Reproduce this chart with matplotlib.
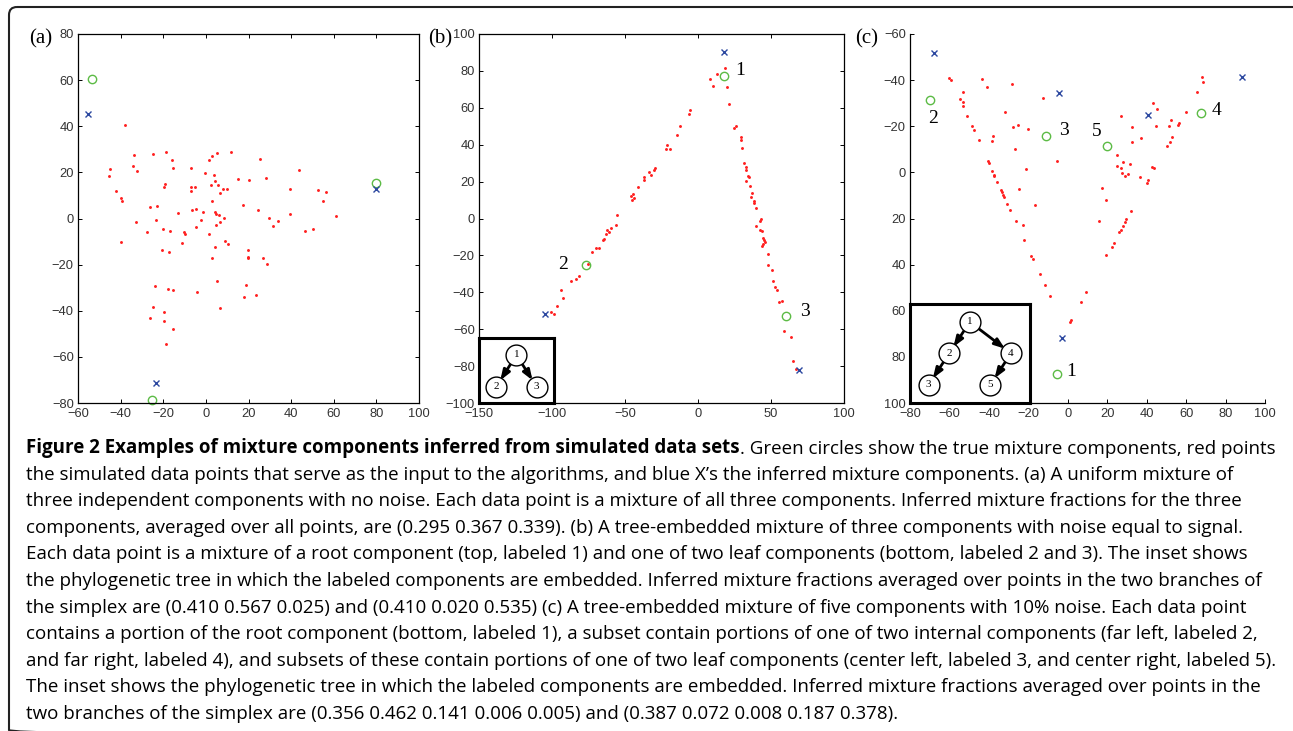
import numpy as np
import matplotlib.pyplot as plt
from matplotlib.patches import FancyBboxPatch
from matplotlib.transforms import Affine2D

W, H = 1293, 731

# ---- panel (a): uniform mixture, no noise ----
a_pts_x = [-37.8, -45.0, -45.6, -33.7, -34.0, -32.3, -24.6, -18.7, -16.0, -15.5,
           -42.0, -40.0, -39.2, -32.9, -40.0, -26.2, -22.9, -23.5, -27.4, -19.9,
           -16.6, -19.1, -19.5, -6.9, -7.2, -7.1, -5.1, -13.0, -6.5, -4.7,
           -1.3, -2.2, -4.6, -10.1, -9.6, -11.2, -20.4, -17.4, 1.5, 2.9,
           5.0, 11.7, -0.4, 3.9, 4.5, 2.3, 5.8, 8.1, 9.8, 6.4,
           2.8, 4.3, 4.7, 6.1, 8.4, 6.7, 4.8, 1.7, 4.2, 2.9,
           5.1, 9.2, 10.6, 15.1, 20.3, 17.3, 25.5, 28.3, 24.5, 19.8,
           19.8, 19.7, 26.7, 28.8, 18.7, 23.6, 17.7, 29.7, 33.9, 31.7,
           39.6, 43.5, 39.6, 46.5, 50.4, 52.6, 56.3, 54.9, 61.0, -23.8,
           -18.0, -15.2, -4.3, -24.6, -26.3, -19.8, -19.5, -15.5, -18.5, 6.4]
a_pts_y = [40.7, 21.5, 18.3, 27.4, 22.6, 20.7, 28.1, 28.8, 25.4, 21.9,
           11.8, 9.0, 7.7, -1.7, -10.3, 5.0, 5.3, -0.8, -5.7, -4.4,
           -5.4, 15.1, 13.5, 21.9, 13.8, 11.8, 13.8, 2.4, 3.5, 4.1,
           2.7, -0.6, -3.5, -5.8, -6.6, -10.8, -13.8, -14.7, 25.5, 27.1,
           28.5, 28.8, 19.7, 18.7, 16.1, 14.5, 14.5, 12.9, 12.9, 10.9,
           7.4, 2.8, 2.0, 1.4, 0.1, -1.5, -3.0, -6.7, -12.2, -17.1,
           -27.2, -9.8, -11.1, 17.1, 16.6, 5.7, 25.8, 17.4, 3.8, -13.8,
           -16.8, -17.1, -17.1, -19.6, -28.8, -33.0, -34.2, 0.1, -1.2, -3.4,
           12.8, 20.9, 1.8, -5.4, -4.5, 12.2, 11.6, 7.7, 1.1, -29.1,
           -30.6, -31.0, -31.7, -38.2, -43.0, -40.4, -44.3, -47.9, -54.4, -38.8]
a_true_x = [-53.4, 80.0, -25.4]
a_true_y = [60.5, 15.4, -78.5]
a_inf_x = [-55.1, 80.0, -23.2]
a_inf_y = [45.3, 12.6, -71.2]

# ---- panel (b): tree of three components ----
b_pts_x = [18.7, 12.8, 8.0, 10.3, 19.9, 21.2, -5.5, -6.2, -12.6, -14.4,
           -21.5, -22.1, -18.9, -29.2, -30.4, -33.8, -32.0, -37.0, -37.2, -41.1,
           -44.3, -45.7, -43.6, -45.2, -55.7, -55.9, -62.1, -61.0, -59.6, -63.0,
           -64.4, -65.1, -67.8, -70.1, -72.4, -75.1, -81.3, -83.3, -86.8, -94.1,
           -92.2, -96.8, -100.7, -98.9,
           24.7, 26.0, 29.2, 29.5, 30.1, 31.3, 32.9, 32.9, 34.0, 34.9,
           33.1, 35.4, 36.8, 36.5, 38.1, 38.6, 40.0, 43.4, 42.2, 40.0,
           42.2, 43.8, 44.5, 45.4, 45.9, 43.6, 44.7, 47.7, 47.9, 50.5,
           51.4, 52.5, 53.9, 55.7, 57.3, 58.7, 63.7, 65.1, 66.9]
b_pts_y = [81.4, 78.5, 75.8, 72.0, 71.3, 61.9, 59.0, 56.6, 50.1, 45.3,
           39.7, 37.5, 37.9, 27.4, 26.5, 25.4, 23.4, 22.3, 20.9, 17.1,
           13.5, 12.0, 11.3, 10.2, 1.9, -3.5, -6.1, -7.5, -5.3, -8.6,
           -11.1, -11.5, -16.0, -16.2, -18.2, -24.7, -31.0, -32.8, -33.9, -38.9,
           -43.3, -47.6, -50.7, -51.8,
           49.2, 50.0, 44.2, 42.4, 38.0, 29.9, 27.7, 26.3, 23.2, 22.7,
           20.5, 17.4, 14.0, 11.8, 9.3, 8.2, 5.5, -0.5, -1.5, -4.2,
           -6.2, -6.6, -10.4, -11.5, -12.6, -15.1, -13.8, -19.4, -25.0, -27.9,
           -33.9, -37.3, -38.6, -45.3, -44.7, -61.0, -64.2, -77.1, -81.8]
b_true_x = [17.8, -76.5, 60.0]
b_true_y = [77.4, -25.4, -52.8]
b_true_lab = ["1", "2", "3"]
b_inf_x = [18.0, -104.8, 68.9]
b_inf_y = [90.4, -51.8, -82.1]
b_edges = [(1, 2), (1, 3)]

# ---- panel (c): tree of five components ----
c_pts_x = [-60.1, -59.4, -53.0, -54.8, -53.3, -53.3, -51.1, -48.6, -47.7, -45.2,
           -43.3, -41.1, -37.7, -38.3, -40.5, -39.8, -38.3, -37.6, -37.4, -35.7,
           -33.9, -33.4, -32.7, -32.2, -30.8, -29.1, -26.4, -22.9, -22.2, -18.7,
           -17.8, -14.1, -11.7, -9.0, -31.7, -28.1, -27.9, -25.1, -26.6, -20.3,
           -21.4, -24.9, -16.5, -12.6, -5.5, 9.4, 6.5, 1.5, 1.0,
           27.0, 32.7, 37.1, 32.6, 25.1, 28.2, 24.8, 27.1, 31.4, 27.5,
           29.2, 30.7, 36.4, 40.0, 40.7, 42.7, 43.9, 17.2, 19.5, 15.7,
           32.1, 29.7, 29.2, 27.8, 26.8, 25.9, 23.4, 22.2, 19.5, 43.0,
           45.4, 44.6, 52.5, 51.5, 56.4, 56.1, 52.8, 51.7, 50.3, 59.8,
           65.5, 68.2, 68.4]
c_pts_y = [-40.8, -39.9, -34.9, -31.8, -30.5, -28.9, -24.4, -20.0, -18.4, -13.9,
           -40.5, -37.0, -15.8, -13.5, -4.9, -3.9, -0.5, 1.0, 1.4, 4.3,
           7.5, 8.5, 9.7, 10.7, 13.6, 16.2, 21.1, 23.0, 29.2, 36.1,
           37.6, 44.2, 49.0, 53.7, -26.0, -38.3, -19.5, -20.4, -10.0, -18.7,
           -1.6, 7.2, 14.3, -32.4, -4.9, 51.9, 56.3, 64.0, 64.7,
           -24.6, -19.5, -15.1, -13.0, -7.4, -4.4, -2.6, -1.9, -3.6, 0.3,
           1.7, 0.7, 1.9, 4.6, 3.4, -2.2, -1.8, 6.9, 12.0, 21.1,
           16.6, 20.4, 21.4, 23.4, 25.0, 25.8, 30.6, 32.2, 36.0, -30.1,
           -27.5, -20.1, -22.9, -20.1, -21.6, -20.4, -15.3, -13.3, -11.3, -26.0,
           -34.9, -41.5, -39.0]
c_true_x = [-5.6, -69.7, -10.9, 67.7, 19.9]
c_true_y = [87.4, -31.5, -15.9, -25.6, -11.6]
c_true_lab = ["1", "2", "3", "4", "5"]
c_inf_x = [-68.0, -4.5, 40.7, 88.5, -2.9]
c_inf_y = [-51.8, -34.3, -24.9, -41.2, 71.8]
c_edges = [(1, 2), (1, 4), (2, 3), (4, 5)]

caption_bold = "Figure 2 Examples of mixture components inferred from simulated data sets"
caption_lines = [
    ". Green circles show the true mixture components, red points",
    "the simulated data points that serve as the input to the algorithms, and blue X\u2019s the inferred mixture components. (a) A uniform mixture of",
    "three independent components with no noise. Each data point is a mixture of all three components. Inferred mixture fractions for the three",
    "components, averaged over all points, are (0.295 0.367 0.339). (b) A tree-embedded mixture of three components with noise equal to signal.",
    "Each data point is a mixture of a root component (top, labeled 1) and one of two leaf components (bottom, labeled 2 and 3). The inset shows",
    "the phylogenetic tree in which the labeled components are embedded. Inferred mixture fractions averaged over points in the two branches of",
    "the simplex are (0.410 0.567 0.025) and (0.410 0.020 0.535) (c) A tree-embedded mixture of five components with 10% noise. Each data point",
    "contains a portion of the root component (bottom, labeled 1), a subset contain portions of one of two internal components (far left, labeled 2,",
    "and far right, labeled 4), and subsets of these contain portions of one of two leaf components (center left, labeled 3, and center right, labeled 5).",
    "The inset shows the phylogenetic tree in which the labeled components are embedded. Inferred mixture fractions averaged over points in the",
    "two branches of the simplex are (0.356 0.462 0.141 0.006 0.005) and (0.387 0.072 0.008 0.187 0.378).",
]

RED = "#ff1f1f"
GREEN = "#5cbb45"
BLUE = "#2c48a0"
SERIF = "Liberation Serif"
CAP_FONT = "Open Sans"


# axes rectangle from pixel edges (top-left origin)
def px_rect(left, top, right, bottom):
    return [left / W, 1 - bottom / H, (right - left) / W, (bottom - top) / H]


def style_axes(ax, boxed=True):
    ax.tick_params(direction="in", length=3, width=0.7, labelsize=9.3,
                   labelcolor="#333333", pad=3, top=boxed, right=boxed)
    ax.tick_params(axis="x", pad=3.5)
    for lab in ax.get_xticklabels() + ax.get_yticklabels():
        lab.set_family("Liberation Sans")
    for s in ax.spines.values():
        s.set_linewidth(0.9)
    if not boxed:
        ax.spines["top"].set_visible(False)
        ax.spines["right"].set_visible(False)


def scatter_panel(ax, px, py, tx, ty, ix, iy):
    ax.plot(px, py, "o", ms=2.1, mew=0, color=RED, clip_on=False)
    ax.plot(tx, ty, "o", ms=6, mfc="none", mec=GREEN, mew=1.0, clip_on=False)
    ax.plot(ix, iy, "x", ms=4, mew=1.0, color=BLUE, clip_on=False)


def label_points(ax, tx, ty, labels, offsets):
    for x, y, lab, off in zip(tx, ty, labels, offsets):
        ax.annotate(lab, (x, y), xytext=off, textcoords="offset pixels",
                    ha="center", va="center", fontsize=14, family=SERIF)


# small tree inset, nodes laid out in-order and by depth
def draw_tree(ax, rect, edges, margin, top, bottom):
    ins = ax.inset_axes(rect)
    ins.set_xlim(0, 1)
    ins.set_ylim(0, 1)
    ins.set_xticks([])
    ins.set_yticks([])
    for s in ins.spines.values():
        s.set_linewidth(2.2)
    kids = {}
    for p, c in edges:
        kids.setdefault(p, []).append(c)
    root = edges[0][0]
    order, depth = [], {}

    def walk(n, d):
        depth[n] = d
        ch = kids.get(n, [])
        if ch:
            walk(ch[0], d + 1)
        order.append(n)
        for k in ch[1:]:
            walk(k, d + 1)

    walk(root, 0)
    xs = np.linspace(margin, 1 - margin, len(order))
    ys = np.linspace(top, bottom, max(depth.values()) + 1)
    pos = {n: (xs[i], ys[depth[n]]) for i, n in enumerate(order)}
    for p, c in edges:
        ins.annotate("", xy=pos[c], xytext=pos[p],
                     arrowprops=dict(arrowstyle="-|>,head_length=0.6,head_width=0.22",
                                     lw=2.0, color="black", shrinkA=7.5, shrinkB=5.5))
    for n, (x, y) in pos.items():
        ins.plot(x, y, "o", ms=15, mfc="white", mec="black", mew=1.0, zorder=3)
        ins.text(x, y, str(n), ha="center", va="center", fontsize=8,
                 family=SERIF, zorder=4)


fig = plt.figure(figsize=(W / 100, H / 100), dpi=100)

# rounded frame round the whole figure (runs off the right and bottom edges)
frame = FancyBboxPatch((9, 7), W, H, boxstyle="round,pad=0,rounding_size=8",
                       fill=False, lw=1.5, ec="#222222", clip_on=False,
                       transform=Affine2D().scale(1, -1).translate(0, H))
fig.patches.append(frame)

# (a)
ax_a = fig.add_axes(px_rect(78, 34, 419, 403))
scatter_panel(ax_a, a_pts_x, a_pts_y, a_true_x, a_true_y, a_inf_x, a_inf_y)
ax_a.set_xlim(-60, 100)
ax_a.set_ylim(-80, 80)
ax_a.set_xticks(np.arange(-60, 101, 20))
ax_a.set_yticks(np.arange(-80, 81, 20))
style_axes(ax_a)

# (b)
ax_b = fig.add_axes(px_rect(479, 34, 844, 403))
scatter_panel(ax_b, b_pts_x, b_pts_y, b_true_x, b_true_y, b_inf_x, b_inf_y)
ax_b.set_xlim(-150, 100)
ax_b.set_ylim(-100, 100)
ax_b.set_xticks(np.arange(-150, 101, 50))
ax_b.set_yticks(np.arange(-100, 101, 20))
style_axes(ax_b)
label_points(ax_b, b_true_x, b_true_y, b_true_lab, [(16, 5), (-23, 1), (19, 4)])
draw_tree(ax_b, [0, 0, 0.205, 0.176], b_edges, 0.23, 0.74, 0.25)

# (c)
ax_c = fig.add_axes(px_rect(910, 34, 1265, 403))
scatter_panel(ax_c, c_pts_x, c_pts_y, c_true_x, c_true_y, c_inf_x, c_inf_y)
ax_c.set_xlim(-80, 100)
ax_c.set_ylim(100, -60)
ax_c.set_xticks(np.arange(-80, 101, 20))
ax_c.set_yticks(np.arange(-60, 101, 20))
style_axes(ax_c, boxed=False)
label_points(ax_c, c_true_x, c_true_y, c_true_lab,
             [(14, 2), (3, -19), (18, 5), (15, 3), (-10, 14)])
draw_tree(ax_c, [0, 0, 0.337, 0.268], c_edges, 0.156, 0.82, 0.185)

for lab, x in [("(a)", 41), ("(b)", 440), ("(c)", 867)]:
    fig.text(x / W, 1 - 39 / H, lab, ha="center", va="center",
             fontsize=15, family=SERIF)

# caption: bold title, then the rest of the first line right after it
cap_x = 26.5 / W
base0, step = 453, 26.6
t_bold = fig.text(cap_x, 1 - base0 / H, caption_bold, fontsize=13.5,
                  family=CAP_FONT, weight="bold", va="baseline")
ax_a.annotate(caption_lines[0], xy=(1, 0), xycoords=t_bold, ha="left", va="bottom",
              fontsize=13.5, family=CAP_FONT, annotation_clip=False)
for i, line in enumerate(caption_lines[1:], start=1):
    fig.text(cap_x, 1 - (base0 + step * i) / H, line, fontsize=13.5,
             family=CAP_FONT, va="baseline")

fig.savefig("out.png", dpi=100)
